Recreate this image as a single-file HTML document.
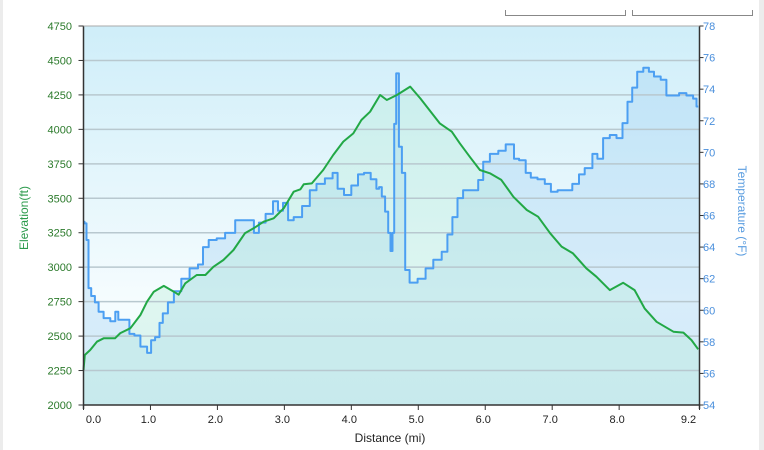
<!DOCTYPE html>
<html><head><meta charset="utf-8">
<style>
html,body{margin:0;padding:0;background:#fff;width:764px;height:450px;overflow:hidden;font-family:"Liberation Sans",Verdana,sans-serif}
svg text{font-family:"Liberation Sans",Verdana,sans-serif}
</style></head>
<body>
<svg id="chart" width="764" height="450" xmlns="http://www.w3.org/2000/svg">
<defs>
<linearGradient id="bg" x1="0" y1="0" x2="0" y2="1">
<stop offset="0" stop-color="#cfeef9"/>
<stop offset="0.72" stop-color="#f5fcfe"/>
<stop offset="1" stop-color="#eef9fc"/>
</linearGradient>
</defs>
<rect x="0" y="0" width="3" height="450" fill="#ececec"/>
<rect x="759" y="0" width="5" height="450" fill="#ececec"/>
<path d="M505.5 10 V15.5 H625.5 V10" fill="none" stroke="#888"/>
<path d="M632.5 10 V15.5 H752.5 V10" fill="none" stroke="#888"/>
<rect x="84" y="26" width="615" height="379" fill="url(#bg)"/>
<g id="fills"></g>
<g id="grid"></g>
<g id="lines"></g>
<g id="axes"></g>
</svg>
<script>
const elevDist=[0,0.02,0.1,0.2,0.3,0.47,0.55,0.7,0.85,0.95,1.05,1.2,1.35,1.42,1.52,1.69,1.82,1.94,2.09,2.24,2.41,2.54,2.69,2.84,2.99,3.14,3.24,3.29,3.41,3.58,3.73,3.88,4.03,4.15,4.28,4.43,4.53,4.68,4.88,5.03,5.32,5.5,5.62,5.77,5.92,6.07,6.24,6.42,6.62,6.79,6.97,7.14,7.31,7.51,7.66,7.86,8.06,8.23,8.38,8.56,8.81,8.96,9.08,9.18];
const elevFt=[2254,2363,2399,2459,2484,2484,2522,2557,2653,2750,2822,2864,2822,2800,2883,2943,2943,3003,3052,3125,3246,3282,3330,3355,3427,3548,3565,3602,3608,3705,3814,3911,3971,4068,4128,4249,4213,4249,4310,4225,4044,3983,3899,3801,3705,3681,3633,3511,3415,3366,3246,3149,3100,2992,2931,2834,2887,2834,2701,2604,2532,2525,2471,2404];
const tempDist=[0,0.03,0.06,0.09,0.14,0.2,0.25,0.35,0.45,0.5,0.54,0.65,0.72,0.8,0.9,1.0,1.02,1.12,1.15,1.22,1.3,1.4,1.52,1.65,1.77,1.8,1.94,2.04,2.19,2.34,2.51,2.58,2.66,2.78,2.88,2.93,3.03,3.08,3.2,3.33,3.43,3.53,3.68,3.76,3.83,3.95,4.05,4.15,4.23,4.35,4.4,4.43,4.48,4.53,4.57,4.6,4.63,4.65,4.69,4.73,4.78,4.83,4.91,5.07,5.15,5.3,5.4,5.47,5.55,5.62,5.72,5.87,5.92,6.02,6.12,6.27,6.34,6.42,6.44,6.57,6.64,6.72,6.84,6.94,7.02,7.14,7.21,7.39,7.41,7.56,7.64,7.71,7.81,7.91,8.01,8.09,8.16,8.23,8.31,8.41,8.48,8.56,8.68,8.73,8.86,8.93,9.08,9.13,9.18];
const tempF=[65.6,65.5,64.45,61.4,60.9,60.5,59.9,59.5,59.3,59.9,59.4,59.4,58.5,58.4,57.7,57.3,58.1,58.3,59.2,59.8,60.5,61.2,62.0,62.65,62.9,64.0,64.45,64.55,64.9,65.7,65.7,64.9,65.55,66.1,66.9,66.3,66.8,65.7,65.9,66.6,67.6,68.0,68.35,68.7,67.7,67.3,67.9,68.6,68.7,68.3,67.7,67.8,67.2,66.25,64.9,63.75,64.9,71.8,75.0,70.35,68.7,62.55,61.75,62.0,62.65,63.2,63.7,64.8,65.9,67.1,67.6,67.6,68.25,69.4,69.9,70.1,70.5,70.5,69.6,69.5,68.7,68.4,68.3,68.0,67.5,67.6,67.6,68.0,68.6,69.0,69.9,69.6,70.9,71.1,70.9,71.85,73.2,74.1,75.1,75.35,75.1,74.8,74.6,73.6,73.6,73.75,73.6,73.4,72.9];
const elevTicks=[2000,2250,2500,2750,3000,3250,3500,3750,4000,4250,4500,4750];
const tempTicks=[54,56,58,60,62,64,66,68,70,72,74,76,78];
const distTicks=[0,1,2,3,4,5,6,7,8,9.2];
const distLabels=["0.0","1.0","2.0","3.0","4.0","5.0","6.0","7.0","8.0","9.2"];

const X0=83.5,X1=699.5,Y0=405,Y1=26;
const xS=d=>X0+d/9.2*(X1-X0);
const yE=e=>Y0-(e-2000)/2750*(Y0-Y1);
const yT=t=>Y0-(t-54)/24*(Y0-Y1);
const NS="http://www.w3.org/2000/svg";
function mk(tag,attrs,parent){const el=document.createElementNS(NS,tag);for(const k in attrs)el.setAttribute(k,attrs[k]);document.getElementById(parent).appendChild(el);return el;}

// stepped temperature points (step at midpoint between samples)
let tp=[];
tempDist.forEach((d,i)=>{
 const y=yT(tempF[i]).toFixed(1);
 if(i>0){const xm=xS((tempDist[i-1]+d)/2).toFixed(1);tp.push(xm+","+yT(tempF[i-1]).toFixed(1));tp.push(xm+","+y);}
 else tp.push(xS(d).toFixed(1)+","+y);
});
tp.push(xS(tempDist[tempDist.length-1]).toFixed(1)+","+yT(tempF[tempF.length-1]).toFixed(1));
let f1=mk("polygon",{points:xS(0)+","+Y0+" "+tp.join(" ")+" "+xS(9.2)+","+yT(tempF[tempF.length-1]).toFixed(1)+" "+xS(9.2)+","+Y0,fill:"#8cc4f0","fill-opacity":"0.28"},"fills");


let ep=elevDist.map((d,i)=>xS(d).toFixed(1)+","+yE(elevFt[i]).toFixed(1));
let f2=mk("polygon",{points:xS(0)+","+Y0+" "+ep.join(" ")+" "+xS(9.2)+","+yE(elevFt[elevFt.length-1]).toFixed(1)+" "+xS(9.2)+","+Y0,fill:"#b4ecd6","fill-opacity":"0.35"},"fills");



elevTicks.forEach((v,i)=>{
 const y=yE(v);
 if(i>0&&i<elevTicks.length-1){const g=mk("line",{x1:X0,x2:X1,y1:y,y2:y,stroke:"#b8c8cf","stroke-width":"1.5"},"grid");
 
 }
 const t=mk("line",{x1:X0-5,x2:X0,y1:y,y2:y,stroke:"#333"},"axes");
 
 
 const l=mk("text",{x:72,y:y+4,"text-anchor":"end","font-size":"11",fill:"#2b7a2b"},"axes");
 l.textContent=v;
 
 
});
tempTicks.forEach(v=>{
 const y=yT(v);
 const t=mk("line",{x1:X1,x2:X1+4,y1:y,y2:y,stroke:"#333"},"axes");
 
 
 const l=mk("text",{x:703,y:y+4,"font-size":"11",fill:"#4a8fdc"},"axes");
 l.textContent=v;
 
 
});
distTicks.forEach((v,i)=>{
 const x=xS(v);
 const t=mk("line",{x1:x,x2:x,y1:Y0,y2:Y0+5,stroke:"#333"},"axes");
 
 
 const l=mk("text",{x:i==0?x+10:(i==distTicks.length-1?x-11:x-2),y:423,"text-anchor":"middle","font-size":"11",fill:"#222"},"axes");
 l.textContent=distLabels[i];
 
 
});
const tl=mk("polyline",{points:tp.join(" "),fill:"none",stroke:"#4c9ff2","stroke-width":"2","stroke-linejoin":"round"},"lines");


const el=mk("polyline",{points:ep.join(" "),fill:"none",stroke:"#22a846","stroke-width":"2","stroke-linejoin":"round"},"lines");


const ax=[[X0,Y1,X0,Y0+4,'left-axis'],[X1,Y1,X1,Y0+4,'right-axis'],[X0,Y0,X1,Y0,'x-axis'],[X0,Y1,X1,Y1,'plot-top-border']];
ax.forEach(a=>{const l=mk("line",{x1:a[0],y1:a[1],x2:a[2],y2:a[3],stroke:a[4]=='plot-top-border'?"#aaa":"#333","stroke-width":a[4]=='plot-top-border'?"1":"1.5"},"axes");
 
 });
const t1=mk("text",{x:390,y:442,"text-anchor":"middle","font-size":"12",fill:"#222"},"axes");
t1.textContent="Distance  (mi)";


t1.setAttribute('xml:space','preserve');
const t2=mk("text",{x:0,y:0,"text-anchor":"middle","font-size":"12",fill:"#2b9a4b",transform:"translate(28,218) rotate(-90)"},"axes");
t2.textContent="Elevation(ft)";


const t3=mk("text",{x:0,y:0,"text-anchor":"middle","font-size":"12",fill:"#5a9de0",transform:"translate(738,211) rotate(90)"},"axes");
t3.textContent="Temperature (°F)";


</script>
</body></html>
